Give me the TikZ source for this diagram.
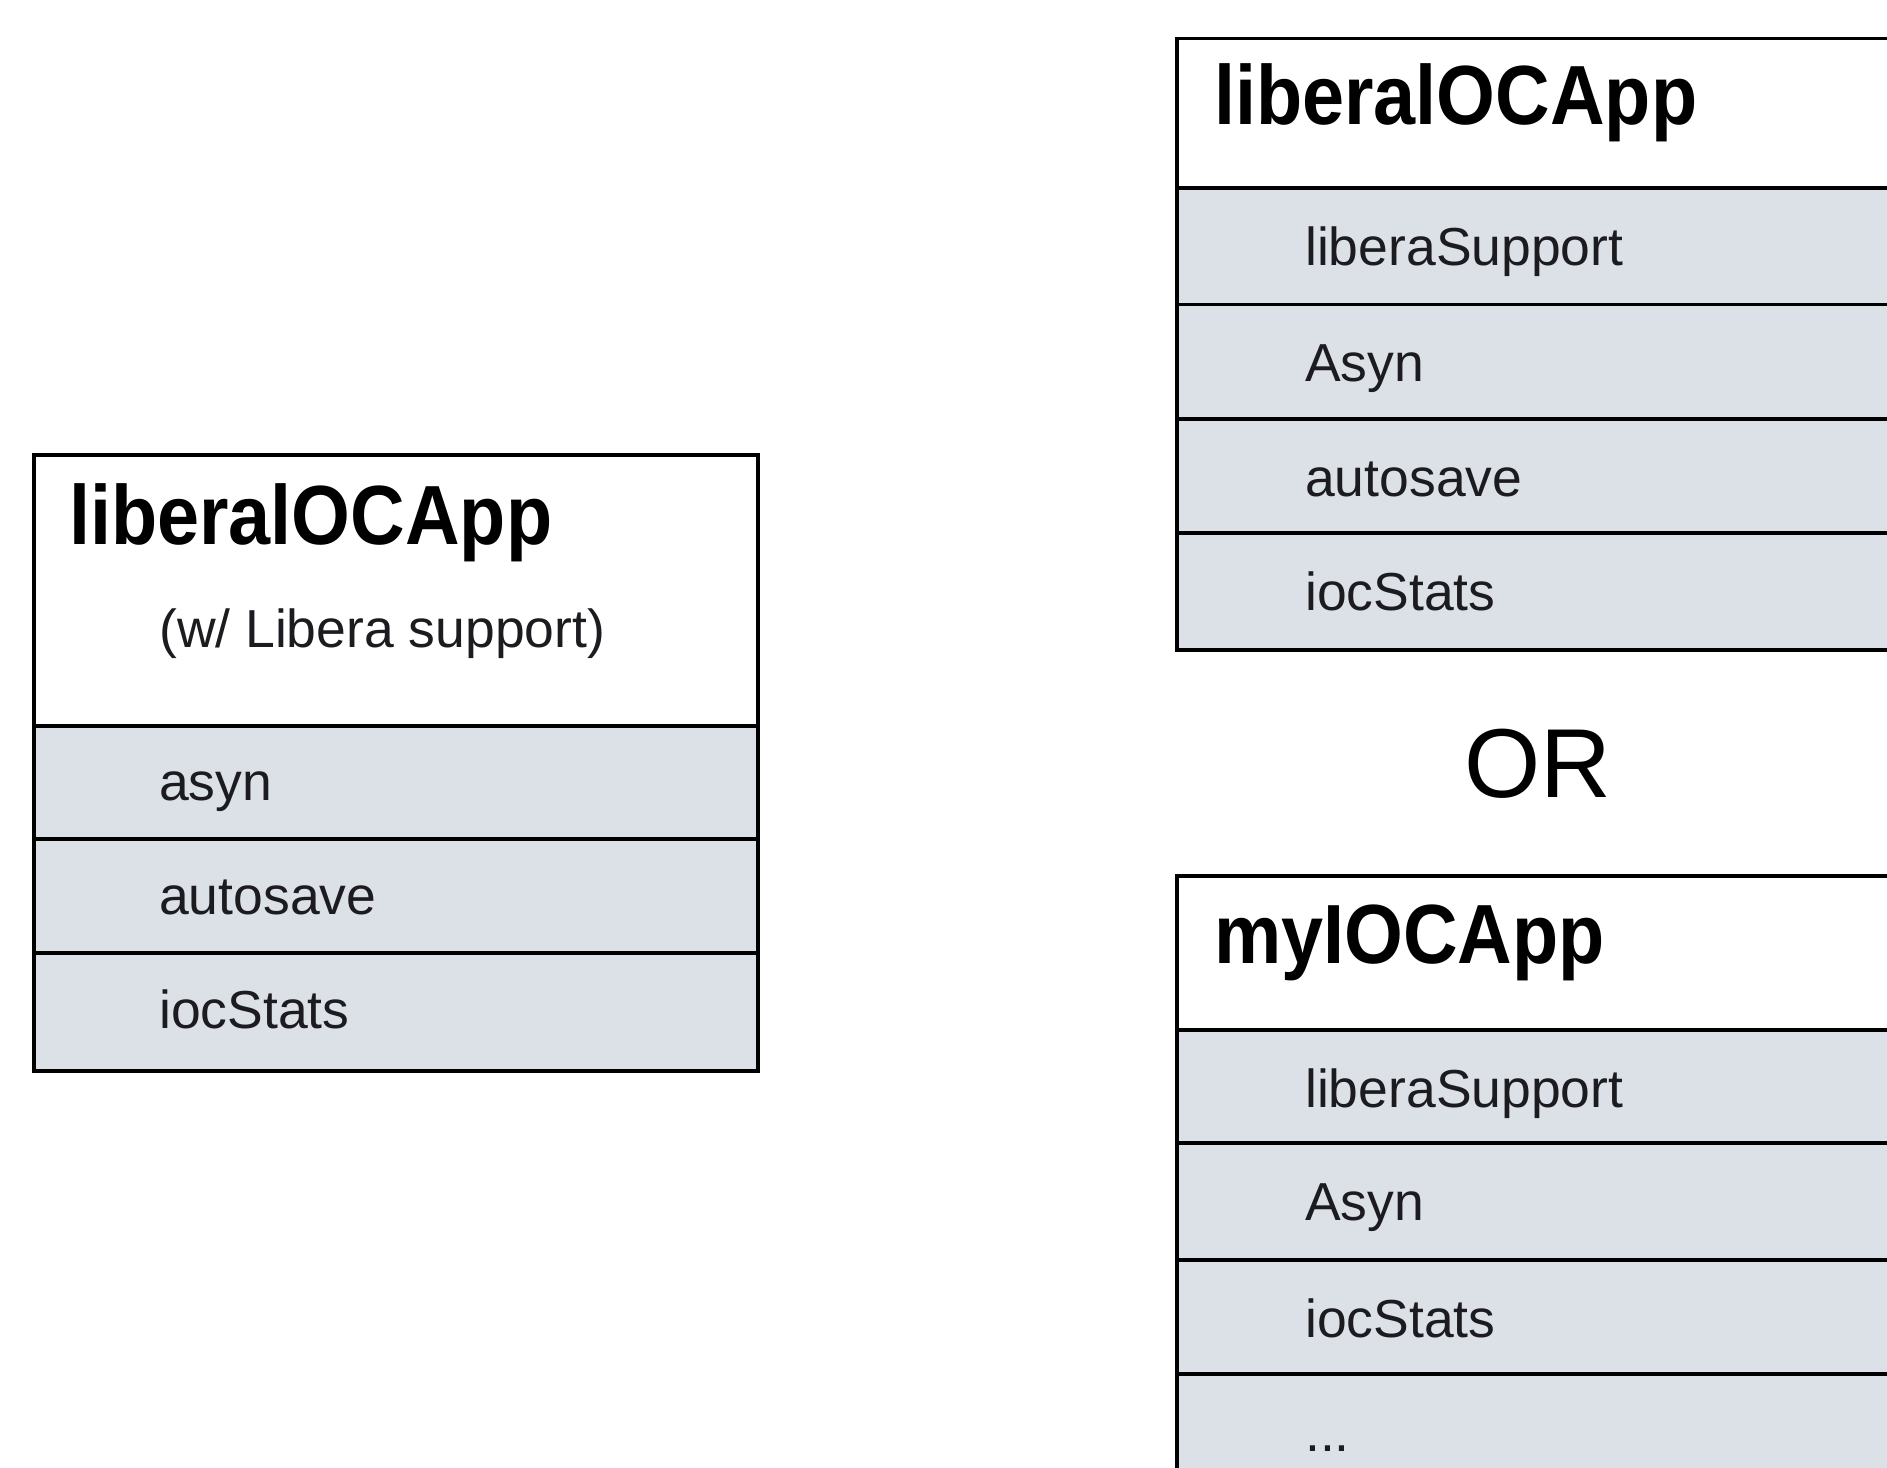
\documentclass[tikz,border=0pt]{standalone}
\usepackage{fontspec}
\usepackage{graphicx}
\setmainfont{Liberation Sans}
\definecolor{rowgray}{RGB}{220,224,231}
\definecolor{itemgray}{RGB}{28,28,32}
\newcommand{\boxtitle}[1]{\scalebox{0.9}[1]{#1}}
\tikzset{
  frame/.style={draw=black, line width=3.6pt},
  rowfill/.style={fill=rowgray},
  titletext/.style={anchor=base west, inner sep=0pt, text=black, font=\fontsize{84}{100}\selectfont\bfseries},
  itemtext/.style={anchor=base west, inner sep=0pt, text=itemgray, font=\fontsize{53.5}{64}\selectfont},
  ortext/.style={anchor=base, inner sep=0pt, text=black, font=\fontsize{98}{118}\selectfont},
}
\begin{document}
\begin{tikzpicture}[x=1pt,y=-1pt]
\useasboundingbox (0,0) rectangle (1887,1467);
\clip (0,0) rectangle (1887,1467);
\fill[white] (0,0) rectangle (1887,1467);

% ---------- left box ----------
\fill[rowfill] (34,726) rectangle (758,1071);
\draw[frame] (34,455) rectangle (758,1071);
\draw[frame] (34,726) -- (758,726);
\draw[frame] (34,839) -- (758,839);
\draw[frame] (34,953) -- (758,953);
\node[titletext] (ltitle) at (69,544) {\boxtitle{liberalOCApp}};
\node[itemtext] (lsub) at (159,647) {(w/ Libera support)};
\node[itemtext] (lasyn) at (159,800) {asyn};
\node[itemtext] (lauto) at (159,914) {autosave};
\node[itemtext] (lioc) at (159,1028) {iocStats};

% ---------- right top box ----------
\fill[rowfill] (1177,188) rectangle (1900,650);
\draw[frame] (1177,38.5) rectangle (1900,650);
\draw[frame] (1177,188) -- (1900,188);
\draw[frame] (1177,304.5) -- (1900,304.5);
\draw[frame] (1177,419) -- (1900,419);
\draw[frame] (1177,533) -- (1900,533);
\node[titletext] (rttitle) at (1214,124) {\boxtitle{liberalOCApp}};
\node[itemtext] (rtlib) at (1305,265) {liberaSupport};
\node[itemtext] (rtasyn) at (1305,381) {Asyn};
\node[itemtext] (rtauto) at (1305,496) {autosave};
\node[itemtext] (rtioc) at (1305,610) {iocStats};

% ---------- OR ----------
\node[ortext] (or) at (1538,797) {OR};

% ---------- right bottom box ----------
\fill[rowfill] (1177,1030) rectangle (1900,1500);
\draw[frame] (1177,876) rectangle (1900,1500);
\draw[frame] (1177,1030) -- (1900,1030);
\draw[frame] (1177,1143) -- (1900,1143);
\draw[frame] (1177,1260) -- (1900,1260);
\draw[frame] (1177,1374) -- (1900,1374);
\node[titletext] (rbtitle) at (1214,963) {\boxtitle{myIOCApp}};
\node[itemtext] (rblib) at (1305,1107) {liberaSupport};
\node[itemtext] (rbasyn) at (1305,1220) {Asyn};
\node[itemtext] (rbioc) at (1305,1337) {iocStats};
\node[itemtext] (rbdots) at (1305,1451) {...};
\end{tikzpicture}
\end{document}
